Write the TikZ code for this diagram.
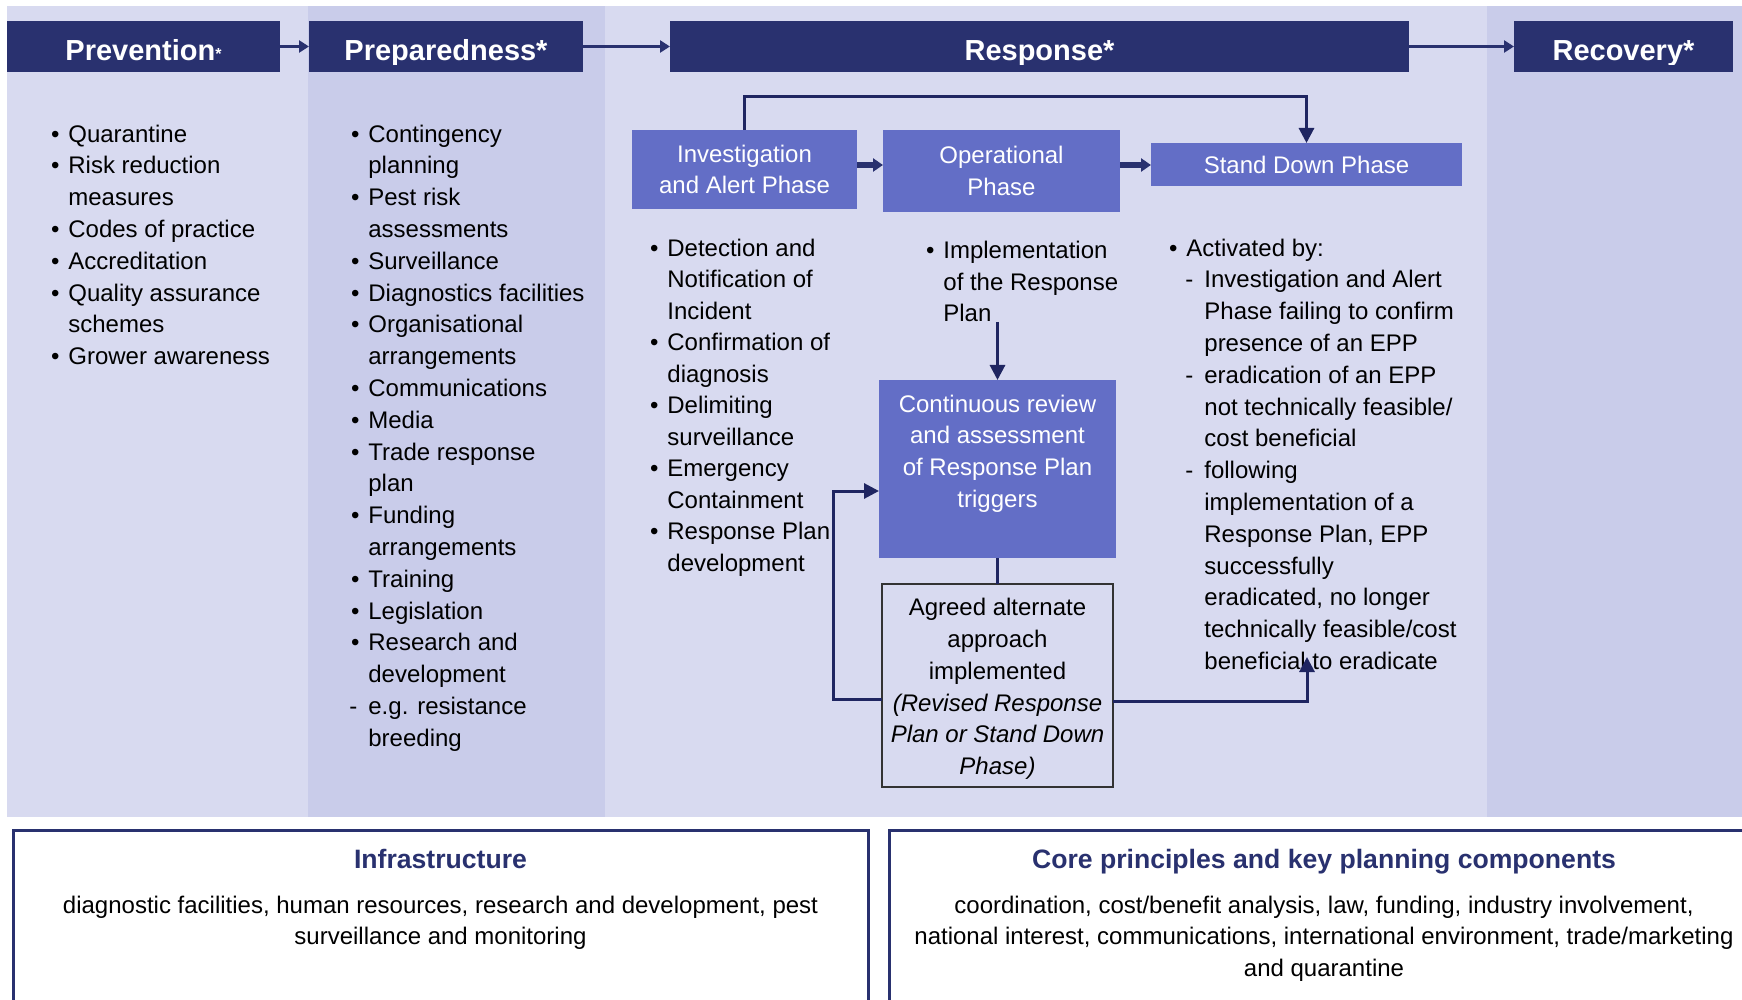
\documentclass[tikz,border=0pt]{standalone}
\usepackage{fontspec}
\setmainfont{Liberation Sans}
\usetikzlibrary{arrows.meta,calc}
\definecolor{navy}{HTML}{29316F}
\definecolor{connc}{HTML}{1F2561}
\definecolor{phasec}{HTML}{636EC6}
\definecolor{bglight}{HTML}{D8DAF0}
\definecolor{bgdark}{HTML}{C9CCEA}
\newcommand{\bodyfont}{\fontsize{12}{15.9}\selectfont}
\newcommand{\bl}{\llap{\textbullet\hspace{4.4pt}}}
\newcommand{\dl}{\llap{-\hspace{5.5pt}}}
\begin{document}
\begin{tikzpicture}[x=0.5pt,y=-0.5pt,
  hdr/.style={fill=navy,text=white,font=\fontsize{14.5}{16}\selectfont\bfseries,
    inner sep=0pt,outer sep=0pt,minimum height=25.5pt,text height=14.5pt,text depth=0pt},
  phasebox/.style={fill=phasec,text=white,font=\bodyfont,align=center,inner sep=0pt,outer sep=0pt},
  lst/.style={font=\bodyfont,align=left,inner sep=0pt,anchor=north west},
  ctext/.style={font=\bodyfont,align=center,inner sep=0pt},
  link/.style={draw=connc,line width=1.5pt,-{Triangle[length=7.5pt,width=7.5pt]}},
  plainlink/.style={draw=connc,line width=1.5pt},
  harrow/.style={draw=navy,line width=1.8pt,-{Triangle[length=5pt,width=6pt]}},
  parrow/.style={draw=navy,line width=2.6pt,-{Triangle[length=5pt,width=6.5pt]}},
  botbox/.style={draw=navy,line width=1.5pt,inner sep=0pt,outer sep=0pt},
  bottitle/.style={font=\fontsize{13.3}{16}\selectfont\bfseries,text=navy,inner sep=0pt,anchor=base}
]
\useasboundingbox (0,0) rectangle (1742,1000);
\clip (0,0) rectangle (1742,1000);
% backgrounds
\fill[white] (0,0) rectangle (1742,1000);
\fill[bglight] (7,6) rectangle (1742,817);
\fill[bgdark] (308,6) rectangle (605,817);
\fill[bgdark] (1487,6) rectangle (1742,817);

% header boxes
\node[hdr,minimum width=136.5pt] (prev) at (143.5,46.5) {Prevention{\fontsize{8}{8}\selectfont\raisebox{0.8pt}{*}}};
\node[hdr,minimum width=137pt] (prep) at (446,46.5) {Preparedness*};
\node[hdr,minimum width=369.5pt] (resp) at (1039.5,46.5) {Response*};
\node[hdr,minimum width=109.5pt] (recov) at (1623.5,46.5) {Recovery*};
\foreach \h in {prev,prep,resp,recov}{
  \fill[navy] (\h.south west) rectangle ($(\h.south east)+(0,-7)$);
}
\draw[harrow] (prev.east) -- (prep.west);
\draw[harrow] (prep.east) -- (resp.west);
\draw[harrow] (resp.east) -- (recov.west);

% lists
\node[lst] (prevlist) at (68,119.5) {\strut\bl Quarantine\\
\bl Risk reduction\\
measures\\
\bl Codes of practice\\
\bl Accreditation\\
\bl Quality assurance\\
schemes\\
\bl Grower awareness};

\node[lst] (preplist) at (368,119.5) {\strut\bl Contingency\\
planning\\
\bl Pest risk\\
assessments\\
\bl Surveillance\\
\bl Diagnostics facilities\\
\bl Organisational\\
arrangements\\
\bl Communications\\
\bl Media\\
\bl Trade response\\
plan\\
\bl Funding\\
arrangements\\
\bl Training\\
\bl Legislation\\
\bl Research and\\
development\\
\dl e.g. resistance\\
breeding};

% phase boxes
\node[phasebox,minimum width=112.5pt,minimum height=39.5pt] (invest) at (744.5,169.5) {Investigation\\and Alert Phase};
\node[phasebox,minimum width=118.5pt,minimum height=41pt] (oper) at (1001.5,171) {Operational\\Phase};
\node[phasebox,minimum width=155.5pt,minimum height=21.5pt] (standdown) at (1306.5,164.5) {Stand Down Phase};
\coordinate (ph) at (0,165);
\draw[parrow] (invest.east |- ph) -- (oper.west |- ph);
\draw[parrow] (oper.east |- ph) -- (standdown.west |- ph);
\draw[link] (invest.north) -- ++(0,-33) -| (standdown.north);

\node[lst,font=\fontsize{12}{15.75}\selectfont] (invlist) at (667,233.7) {\strut\bl Detection and\\
Notification of\\
Incident\\
\bl Confirmation of\\
diagnosis\\
\bl Delimiting\\
surveillance\\
\bl Emergency\\
Containment\\
\bl Response Plan\\
development};

\node[lst] (operlist) at (943,235.7) {\strut\bl Implementation\\
of the Response\\
Plan};

\node[lst] (sdlist) at (1186,233.5) {\strut\bl Activated by:\\
\hspace*{9pt}\dl Investigation and Alert\\
\hspace*{9pt}Phase failing to confirm\\
\hspace*{9pt}presence of an EPP\\
\hspace*{9pt}\dl eradication of an EPP\\
\hspace*{9pt}not technically feasible/\\
\hspace*{9pt}cost beneficial\\
\hspace*{9pt}\dl following\\
\hspace*{9pt}implementation of a\\
\hspace*{9pt}Response Plan, EPP\\
\hspace*{9pt}successfully\\
\hspace*{9pt}eradicated, no longer\\
\hspace*{9pt}technically feasible/cost\\
\hspace*{9pt}beneficial to eradicate};

% review and agreed boxes
\node[phasebox,minimum width=118.5pt,minimum height=89pt] (review) at (997.5,469) {};
\node[ctext,text=white,anchor=north] (reviewtext) at (997.5,389.5) {\strut Continuous review\\and assessment\\of Response Plan\\triggers};
\node[draw=black!80,line width=0.55pt,inner sep=0pt,outer sep=0pt,minimum width=115.5pt,minimum height=101.5pt,font=\bodyfont,align=center] (agreed) at (997.5,685.5)
  {\rule{0pt}{12.1pt}Agreed alternate\\approach\\implemented\\\textit{(Revised Response}\\\textit{Plan or Stand Down}\\\textit{Phase)}};

\coordinate (plan) at (998,322);
\draw[link] (review.north |- plan) -- (review.north);
\draw[plainlink] (review.south) -- (agreed.north);
\coordinate (aw) at ($(agreed.west)+(0,13.5)$);
\coordinate (rw) at ($(review.west)+(0,22)$);
\coordinate (loopx) at (833,0);
\draw[link] (aw) -- (aw -| loopx) -- (loopx |- rw) -- (rw);
\coordinate (ae) at ($(agreed.east)+(0,15.5)$);
\coordinate (sdtip) at (1307,657);
\draw[link] (ae) -| (sdtip);

% bottom boxes
\node[botbox,minimum width=427.5pt,minimum height=90pt] (infra) at (440.5,920) {};
\node[botbox,minimum width=435.5pt,minimum height=90pt] (core) at (1324.5,920) {};
\node[bottitle] (infratitle) at (440.5,868) {Infrastructure};
\node[bottitle] (coretitle) at (1324,868) {Core principles and key planning components};
\node[ctext,anchor=north] (infrabody) at (440.5,890.5) {\strut diagnostic facilities, human resources, research and development, pest\\surveillance and monitoring};
\node[ctext,anchor=north] (corebody) at (1324,890.5) {\strut coordination, cost/benefit analysis, law, funding, industry involvement,\\national interest, communications, international environment, trade/marketing\\and quarantine};
\end{tikzpicture}
\end{document}
